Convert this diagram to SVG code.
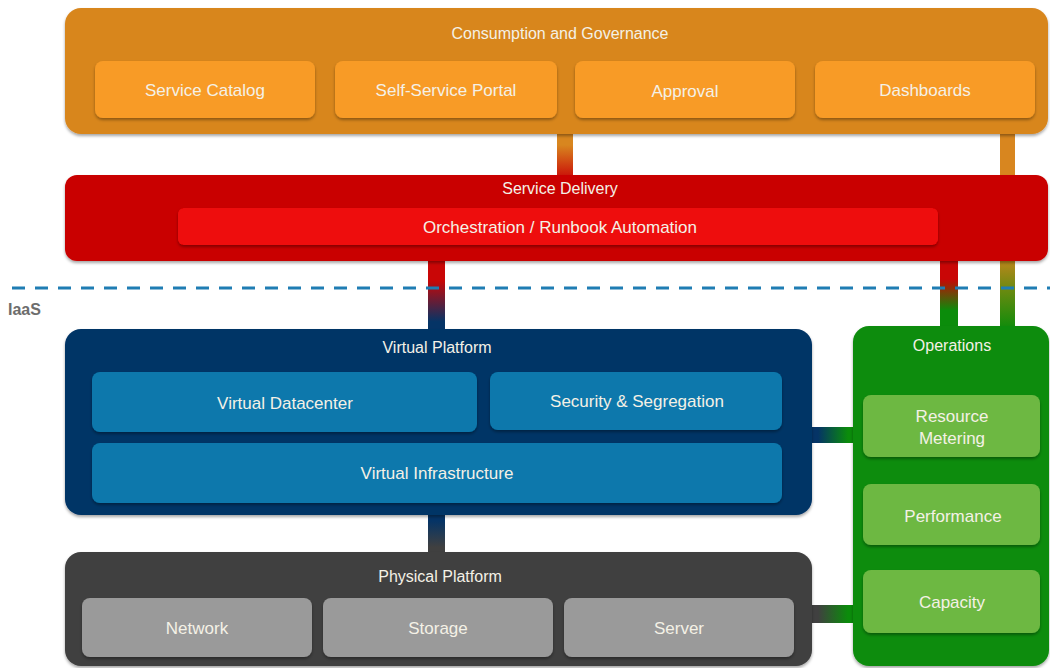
<svg xmlns="http://www.w3.org/2000/svg" width="1050" height="668" viewBox="0 0 1050 668">
<style>
text{font-family:"Liberation Sans",Arial,sans-serif;font-size:17px;fill:#f4f1e6;text-anchor:middle}
.title{font-size:16px}
.iaas{font-size:16px;font-weight:bold;fill:#6d6d6d;text-anchor:start}
</style>
<defs>
<linearGradient id="gOR" x1="0" y1="0" x2="0" y2="1"><stop offset="0.3" stop-color="#d8861f"/><stop offset="1" stop-color="#c90606"/></linearGradient>
<linearGradient id="gOG" x1="0" y1="0" x2="0" y2="1"><stop offset="0.25" stop-color="#d8861f"/><stop offset="0.6" stop-color="#d8861f"/><stop offset="0.8" stop-color="#6a8a10"/><stop offset="1" stop-color="#0b8c0b"/></linearGradient>
<linearGradient id="gRB" x1="0" y1="0" x2="0" y2="1"><stop offset="0.3" stop-color="#c90606"/><stop offset="0.85" stop-color="#053466"/></linearGradient>
<linearGradient id="gRG" x1="0" y1="0" x2="0" y2="1"><stop offset="0.3" stop-color="#c90606"/><stop offset="0.75" stop-color="#0b8c0b"/></linearGradient>
<linearGradient id="gBD" x1="0" y1="0" x2="0" y2="1"><stop offset="0.2" stop-color="#053466"/><stop offset="0.8" stop-color="#404040"/></linearGradient>
<linearGradient id="gBGh" x1="0" y1="0" x2="1" y2="0"><stop offset="0.2" stop-color="#053466"/><stop offset="0.8" stop-color="#0b8c0b"/></linearGradient>
<linearGradient id="gDGh" x1="0" y1="0" x2="1" y2="0"><stop offset="0.2" stop-color="#404040"/><stop offset="0.8" stop-color="#0b8c0b"/></linearGradient>
<filter id="sh" x="-5%" y="-10%" width="110%" height="130%"><feDropShadow dx="0" dy="2" stdDeviation="1.5" flood-color="#000" flood-opacity="0.35"/></filter>
</defs>

<g id="connectors">
<rect x="557" y="130" width="16" height="50" fill="url(#gOR)"/>
<rect x="1000" y="130" width="15" height="200" fill="url(#gOG)"/>
<rect x="428" y="258" width="17" height="75" fill="url(#gRB)"/>
<rect x="940" y="258" width="18" height="70" fill="url(#gRG)"/>
<rect x="428" y="512" width="17" height="44" fill="url(#gBD)"/>
<rect x="808" y="427" width="50" height="16" fill="url(#gBGh)"/>
<rect x="808" y="605" width="50" height="18" fill="url(#gDGh)"/>
</g>

<line id="iaas-line" x1="12" y1="288" x2="1050" y2="288" stroke="#1f7db3" stroke-width="3" stroke-dasharray="13 10"/>
<text class="iaas" x="8" y="315">IaaS</text>

<g id="consumption">
<rect x="65" y="8" width="983" height="126" rx="16" fill="#d8861f" filter="url(#sh)"/>
<text class="title" x="560" y="39">Consumption and Governance</text>
</g>
<g id="service-catalog"><rect x="95" y="61" width="220" height="57" rx="8" fill="#f89b26" filter="url(#sh)"/><text x="205" y="96">Service Catalog</text></g>
<g id="self-service-portal"><rect x="335" y="61" width="222" height="57" rx="8" fill="#f89b26" filter="url(#sh)"/><text x="446" y="96">Self-Service Portal</text></g>
<g id="approval"><rect x="575" y="61" width="220" height="57" rx="8" fill="#f89b26" filter="url(#sh)"/><text x="685" y="97">Approval</text></g>
<g id="dashboards"><rect x="815" y="61" width="220" height="57" rx="8" fill="#f89b26" filter="url(#sh)"/><text x="925" y="96">Dashboards</text></g>

<g id="service-delivery">
<rect x="65" y="175" width="983" height="86" rx="12" fill="#c90606" filter="url(#sh)"/>
<text class="title" x="560" y="194">Service Delivery</text>
</g>
<g id="orchestration"><rect x="178" y="208" width="760" height="37" rx="6" fill="#ee0a0a" filter="url(#sh)"/><text x="560" y="233">Orchestration / Runbook Automation</text></g>

<g id="virtual-platform">
<rect x="65" y="329" width="747" height="186" rx="16" fill="#053466" filter="url(#sh)"/>
<text class="title" x="437" y="353">Virtual Platform</text>
</g>
<g id="virtual-datacenter"><rect x="92" y="372" width="385" height="60" rx="8" fill="#0b78ac" filter="url(#sh)"/><text x="285" y="409">Virtual Datacenter</text></g>
<g id="security-segregation"><rect x="490" y="372" width="292" height="58" rx="8" fill="#0b78ac" filter="url(#sh)"/><text x="637" y="407">Security &amp; Segregation</text></g>
<g id="virtual-infrastructure"><rect x="92" y="443" width="690" height="60" rx="8" fill="#0b78ac" filter="url(#sh)"/><text x="437" y="479">Virtual Infrastructure</text></g>

<g id="physical-platform">
<rect x="65" y="552" width="747" height="114" rx="16" fill="#404040" filter="url(#sh)"/>
<text class="title" x="440" y="582">Physical Platform</text>
</g>
<g id="network"><rect x="82" y="598" width="230" height="59" rx="8" fill="#9a9a9a" filter="url(#sh)"/><text x="197" y="634">Network</text></g>
<g id="storage"><rect x="323" y="598" width="230" height="59" rx="8" fill="#9a9a9a" filter="url(#sh)"/><text x="438" y="634">Storage</text></g>
<g id="server"><rect x="564" y="598" width="230" height="59" rx="8" fill="#9a9a9a" filter="url(#sh)"/><text x="679" y="634">Server</text></g>

<g id="operations">
<rect x="853" y="326" width="196" height="340" rx="16" fill="#0b8c0b" filter="url(#sh)"/>
<text class="title" x="952" y="351">Operations</text>
</g>
<g id="resource-metering"><rect x="863" y="395" width="177" height="62" rx="8" fill="#6db843" filter="url(#sh)"/><text x="952" y="422">Resource</text><text x="952" y="444">Metering</text></g>
<g id="performance"><rect x="863" y="484" width="177" height="61" rx="8" fill="#6db843" filter="url(#sh)"/><text x="953" y="522">Performance</text></g>
<g id="capacity"><rect x="863" y="570" width="177" height="63" rx="8" fill="#6db843" filter="url(#sh)"/><text x="952" y="608">Capacity</text></g>
</svg>
